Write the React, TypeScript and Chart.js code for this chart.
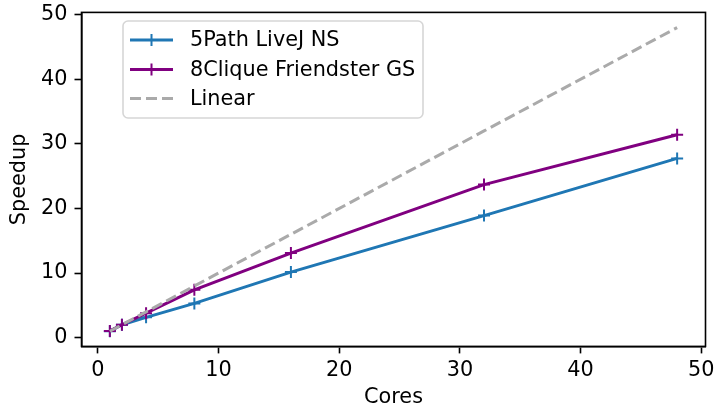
import React, { useEffect, useRef } from "react";
import { Chart, registerables } from "chart.js";

Chart.register(...registerables);

const cores = [1, 2, 4, 8, 16, 32, 48];
const pathSpeedup = [1.0, 2.0, 3.15, 5.3, 10.15, 18.9, 27.75];
const cliqueSpeedup = [1.05, 2.0, 3.8, 7.4, 13.1, 23.7, 31.4];
const linearSpeedup = [1, 2, 4, 8, 16, 32, 48];
const xTicks = [0, 10, 20, 30, 40, 50];
const yTicks = [0, 10, 20, 30, 40, 50];

const seriesNames = ["5Path LiveJ NS", "8Clique Friendster GS", "Linear"];
const seriesColors = ["#1f77b4", "#800080", "#aaaaaa"];

const FONT = "'DejaVu Sans', sans-serif";
const FS = 20.8;

const framePlugin = {
  id: "frame",
  afterDraw(chart: any) {
    const { ctx, chartArea } = chart;
    ctx.save();
    ctx.strokeStyle = "#000";
    ctx.lineWidth = 1.6;
    ctx.strokeRect(chartArea.left, chartArea.top, chartArea.right - chartArea.left, chartArea.bottom - chartArea.top);
    ctx.restore();
  },
};

const legendPlugin = {
  id: "boxLegend",
  afterDatasetsDraw(chart: any) {
    const { ctx } = chart;
    const x0 = 123, y0 = 21, w = 300, h = 97, r = 5;
    ctx.save();
    ctx.beginPath();
    ctx.moveTo(x0 + r, y0);
    ctx.arcTo(x0 + w, y0, x0 + w, y0 + h, r);
    ctx.arcTo(x0 + w, y0 + h, x0, y0 + h, r);
    ctx.arcTo(x0, y0 + h, x0, y0, r);
    ctx.arcTo(x0, y0, x0 + w, y0, r);
    ctx.closePath();
    ctx.fillStyle = "rgba(255,255,255,0.8)";
    ctx.fill();
    ctx.strokeStyle = "#d6d6d6";
    ctx.lineWidth = 1.6;
    ctx.stroke();
    const rows = [40, 69.5, 98.5];
    seriesNames.forEach((name, i) => {
      const y = rows[i];
      ctx.strokeStyle = seriesColors[i];
      ctx.lineWidth = 3;
      ctx.setLineDash(i === 2 ? [11, 5] : []);
      ctx.beginPath();
      ctx.moveTo(130, y);
      ctx.lineTo(173, y);
      ctx.stroke();
      ctx.setLineDash([]);
      if (i < 2) {
        ctx.lineWidth = 2;
        ctx.beginPath();
        ctx.moveTo(151.5 - 6, y);
        ctx.lineTo(151.5 + 6, y);
        ctx.moveTo(151.5, y - 6);
        ctx.lineTo(151.5, y + 6);
        ctx.stroke();
      }
      ctx.fillStyle = "#000";
      ctx.font = `${FS}px ${FONT}`;
      ctx.textBaseline = "middle";
      ctx.textAlign = "left";
      ctx.fillText(name, 190, y + 1);
    });
    ctx.restore();
  },
};

export default function App() {
  const ref = useRef<HTMLCanvasElement>(null);
  useEffect(() => {
    document.body.style.margin = "0";
    const canvas = ref.current;
    if (!canvas) return;
    const mk = (arr: number[]) => cores.map((c, i) => ({ x: c, y: arr[i] }));
    const chart = new Chart(canvas, {
      type: "line",
      data: {
        datasets: [
          {
            label: seriesNames[0],
            data: mk(pathSpeedup),
            borderColor: seriesColors[0],
            backgroundColor: seriesColors[0],
            borderWidth: 3,
            pointStyle: "cross",
            pointRadius: 6,
            pointBorderWidth: 2,
            pointBorderColor: seriesColors[0],
            order: 3,
          },
          {
            label: seriesNames[1],
            data: mk(cliqueSpeedup),
            borderColor: seriesColors[1],
            backgroundColor: seriesColors[1],
            borderWidth: 3,
            pointStyle: "cross",
            pointRadius: 6,
            pointBorderWidth: 2,
            pointBorderColor: seriesColors[1],
            order: 2,
          },
          {
            label: seriesNames[2],
            data: mk(linearSpeedup),
            borderColor: seriesColors[2],
            borderWidth: 3,
            borderDash: [11, 5],
            pointRadius: 0,
            pointHoverRadius: 0,
            order: 1,
          },
        ],
      },
      options: {
        responsive: false,
        animation: false,
        devicePixelRatio: 1,
        events: [],
        layout: { padding: { top: 12.4, right: 9.5, left: 0, bottom: 0 } },
        plugins: { legend: { display: false }, tooltip: { enabled: false } },
        elements: { line: { tension: 0 } },
        scales: {
          x: {
            type: "linear",
            min: -1.35,
            max: 50.35,
            afterBuildTicks(scale: any) {
              scale.ticks = xTicks.map((v) => ({ value: v }));
            },
            afterFit(scale: any) {
              scale.height = 59.6;
              scale.paddingLeft = 0;
              scale.paddingRight = 0;
            },
            grid: { drawOnChartArea: false, drawTicks: true, tickLength: 7, tickWidth: 1.6, tickColor: "#000" },
            border: { display: true, color: "#000", width: 1.6 },
            ticks: { color: "#000", font: { family: FONT, size: FS }, padding: 5, maxRotation: 0, autoSkip: false },
            title: { display: true, text: "Cores", color: "#000", font: { family: FONT, size: FS, lineHeight: 1 }, padding: { top: 0, bottom: -2.5 } },
          },
          y: {
            type: "linear",
            min: -1.35,
            max: 50.35,
            afterBuildTicks(scale: any) {
              scale.ticks = yTicks.map((v) => ({ value: v }));
            },
            afterFit(scale: any) {
              scale.width = 81.5;
              scale.paddingTop = 0;
              scale.paddingBottom = 0;
            },
            grid: { drawOnChartArea: false, drawTicks: true, tickLength: 7, tickWidth: 1.6, tickColor: "#000" },
            border: { display: true, color: "#000", width: 1.6 },
            ticks: { color: "#000", font: { family: FONT, size: FS }, padding: 7, autoSkip: false },
            title: { display: true, text: "Speedup", color: "#000", font: { family: FONT, size: FS, lineHeight: 1 }, padding: { top: 9.5, bottom: 0 } },
          },
        },
      },
      plugins: [framePlugin, legendPlugin],
    } as any);
    return () => chart.destroy();
  }, []);
  return <canvas ref={ref} width={715} height={406} style={{ display: "block" }} />;
}
